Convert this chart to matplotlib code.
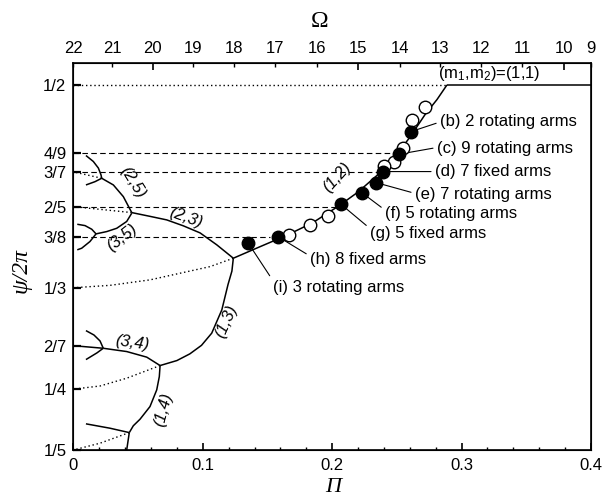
import matplotlib.pyplot as plt

plt.rcParams['font.family'] = ['Liberation Sans', 'DejaVu Sans']
plt.rcParams['mathtext.default'] = 'regular'

# axis ticks
pi_ticks = [0, 0.1, 0.2, 0.3, 0.4]
pi_labels = ['0', '0.1', '0.2', '0.3', '0.4']
psi_ticks = [1/5, 1/4, 2/7, 1/3, 3/8, 2/5, 3/7, 4/9, 1/2]
psi_labels = ['1/5', '1/4', '2/7', '1/3', '3/8', '2/5', '3/7', '4/9', '1/2']

# top axis: Omega values and their Pi positions
omega_major = ['20', '15', '10']
omega_major_pos = [0.0612, 0.2203, 0.3790]
omega_minor = ['22', '21', '19', '18', '17', '16', '14', '13', '12', '11', '9']
omega_minor_pos = [0.0, 0.0299, 0.0925, 0.1239, 0.1558, 0.1880, 0.2522, 0.2836, 0.3149, 0.3469, 0.4]

# solid branches
b11_x = [0.2887, 0.4]
b11_y = [0.5, 0.5]
b12_x = [0.1236, 0.1443, 0.1650, 0.1850, 0.2050, 0.2200, 0.2350, 0.2480, 0.2600, 0.2720, 0.2810, 0.2887]
b12_y = [0.3576, 0.3671, 0.3765, 0.3868, 0.4005, 0.4120, 0.4260, 0.4400, 0.4570, 0.4760, 0.4880, 0.5]
b13_x = [0.1236, 0.1225, 0.1195, 0.1147, 0.1069, 0.0990, 0.0900, 0.0800, 0.0670]
b13_y = [0.3576, 0.3470, 0.3360, 0.3151, 0.2960, 0.2860, 0.2790, 0.2735, 0.2694]
b23_x = [0.0451, 0.0592, 0.0721, 0.0850, 0.0979, 0.1108, 0.1236]
b23_y = [0.3951, 0.3920, 0.3891, 0.3842, 0.3784, 0.3686, 0.3576]
b25_x = [0.0451, 0.0386, 0.0309, 0.0219]
b25_y = [0.3951, 0.4082, 0.4178, 0.4233]
b25_up_x = [0.0219, 0.0213, 0.0193, 0.0154, 0.0097]
b25_up_y = [0.4233, 0.4262, 0.4317, 0.4371, 0.4420]
b25_lo_x = [0.0219, 0.0167, 0.0097]
b25_lo_y = [0.4233, 0.4205, 0.4178]
b35_x = [0.0451, 0.0412, 0.0335, 0.0258, 0.0175]
b35_y = [0.3946, 0.3878, 0.3822, 0.3795, 0.3776]
b35_up_x = [0.0175, 0.0142, 0.0090, 0.0030]
b35_up_y = [0.3776, 0.3814, 0.3844, 0.3855]
b35_lo_x = [0.0175, 0.0128, 0.0064, 0.0030]
b35_lo_y = [0.3776, 0.3713, 0.3658, 0.3645]
b34_x = [0.0670, 0.0567, 0.0412, 0.0231]
b34_y = [0.2694, 0.2763, 0.2809, 0.2836]
b34_up_x = [0.0231, 0.0206, 0.0159, 0.0097]
b34_up_y = [0.2836, 0.2896, 0.2945, 0.2981]
b34_lo_x = [0.0231, 0.0182, 0.0097]
b34_lo_y = [0.2836, 0.2798, 0.2743]
b27_x = [0.0, 0.0231]
b27_y = [2/7, 0.2836]
b14_x = [0.0670, 0.0664, 0.0644, 0.0592, 0.0515, 0.0463, 0.0432]
b14_y = [0.2694, 0.2603, 0.2494, 0.2357, 0.2253, 0.2199, 0.2143]
b15_up_x = [0.0432, 0.0283, 0.0097]
b15_up_y = [0.2143, 0.2179, 0.2215]
b15_lo_x = [0.0432, 0.0412]
b15_lo_y = [0.2143, 0.2]

# dotted branches
d12_x = [0.0, 0.2887]
d12_y = [0.5, 0.5]
d13_x = [0.1236, 0.1056, 0.0592, 0.0283, 0.0]
d13_y = [0.3576, 0.3507, 0.3398, 0.3353, 1/3]
d25_x = [0.0451, 0.0]
d25_y = [0.3951, 0.4]
d37_x = [0.0219, 0.0]
d37_y = [0.4233, 3/7]
d14_x = [0.0670, 0.0412, 0.0206, 0.0]
d14_y = [0.2694, 0.2590, 0.2526, 0.25]
d15_x = [0.0432, 0.0206, 0.0]
d15_y = [0.2143, 0.2056, 0.2]

# dashed levels: psi value and where they meet the (1,2) branch
dash_levels = [4/9, 3/7, 2/5, 3/8]
dash_end = [0.2471, 0.2355, 0.2036, 0.1520]

# branch labels
branch_names = ['(2,5)', '(3,5)', '(2,3)', '(1,2)', '(1,3)', '(3,4)', '(1,4)']
branch_lx = [0.0455, 0.0375, 0.0870, 0.2040, 0.1185, 0.0451, 0.0695]
branch_ly = [0.4200, 0.3745, 0.3905, 0.4245, 0.3055, 0.2880, 0.2330]
branch_rot = [-58, 38, -20, 48, 66, -8, 75]

# measured states
open_x = [0.2719, 0.2616, 0.2551, 0.2474, 0.2402, 0.1971, 0.1830, 0.1669]
open_y = [0.4822, 0.4712, 0.4480, 0.4370, 0.4334, 0.3924, 0.3850, 0.3768]
filled_x = [0.2608, 0.2518, 0.2396, 0.2340, 0.2229, 0.2067, 0.1580, 0.1352]
filled_y = [0.4616, 0.4431, 0.4288, 0.4197, 0.4115, 0.4020, 0.3754, 0.3699]
filled_names = ['(b) 2 rotating arms', '(c) 9 rotating arms', '(d) 7 fixed arms',
                '(e) 7 rotating arms', '(f) 5 rotating arms', '(g) 5 fixed arms',
                '(h) 8 fixed arms', '(i) 3 rotating arms']
name_x = [0.2835, 0.2811, 0.2796, 0.2641, 0.2409, 0.2293, 0.1830, 0.1541]
name_y = [0.4696, 0.4480, 0.4288, 0.4096, 0.3940, 0.3776, 0.3568, 0.3338]
name_rel = [(0, 0.5), (0, 0.55), (0, 0.5), (0, 0.6), (0, 0.75), (0, 0.85), (0, 0.7), (0, 0.95)]

fig = plt.figure(figsize=(6.03, 4.99), dpi=100)
ax = fig.add_axes([0.1217, 0.0982, 0.8584, 0.7755])

lw = 1.1
solid = [(b11_x, b11_y), (b12_x, b12_y), (b13_x, b13_y), (b23_x, b23_y),
         (b25_x, b25_y), (b25_up_x, b25_up_y), (b25_lo_x, b25_lo_y),
         (b35_x, b35_y), (b35_up_x, b35_up_y), (b35_lo_x, b35_lo_y),
         (b34_x, b34_y), (b34_up_x, b34_up_y), (b34_lo_x, b34_lo_y),
         (b27_x, b27_y), (b14_x, b14_y), (b15_up_x, b15_up_y), (b15_lo_x, b15_lo_y)]
for xs, ys in solid:
    ax.plot(xs, ys, color='black', lw=lw, solid_capstyle='butt', zorder=2)

dotted = [(d12_x, d12_y), (d13_x, d13_y), (d25_x, d25_y), (d37_x, d37_y),
          (d14_x, d14_y), (d15_x, d15_y)]
for xs, ys in dotted:
    ax.plot(xs, ys, color='black', lw=1.0, ls=(0, (1, 2)), zorder=1)

for lev, xe in zip(dash_levels, dash_end):
    ax.plot([0, xe], [lev, lev], color='black', lw=0.8, ls=(0, (5, 3)), zorder=1)

for name, x, y, r in zip(branch_names, branch_lx, branch_ly, branch_rot):
    ax.text(x, y, name, rotation=r, ha='center', va='center', fontsize=12,
            style='italic', rotation_mode='anchor')

ax.plot(open_x, open_y, 'o', ms=9, mfc='white', mec='black', mew=1.0, zorder=5)
ax.plot(filled_x, filled_y, 'o', ms=9, mfc='black', mec='black', mew=1.0, zorder=6)

for name, px, py, tx, ty, rel in zip(filled_names, filled_x, filled_y, name_x, name_y, name_rel):
    ax.annotate(name, xy=(px, py), xytext=(tx, ty), ha='left', va='center', fontsize=12,
                arrowprops=dict(arrowstyle='-', lw=0.8, color='black', relpos=rel,
                                shrinkA=1, shrinkB=0), zorder=4)

ax.text(0.2819, 0.5095, '(m$_1$,m$_2$)=(1,1)', ha='left', va='center', fontsize=12)

ax.set_xlim(0, 0.4)
ax.set_ylim(0.2, 0.518)
ax.set_xticks(pi_ticks)
ax.set_xticklabels(pi_labels)
ax.set_xticks([i * 0.02 for i in range(21)], minor=True)
ax.set_yticks(psi_ticks)
ax.set_yticklabels(psi_labels)
ax.tick_params(axis='x', which='major', direction='in', length=5, width=1.2,
               labelsize=12, pad=6, top=False)
ax.tick_params(axis='x', which='minor', direction='in', length=2.5, width=1.0, top=False)
ax.tick_params(axis='y', which='major', direction='in', length=6, width=1.6,
               labelsize=12, pad=5, right=False)
for s in ax.spines.values():
    s.set_linewidth(1.2)

ax2 = ax.twiny()
ax2.set_xlim(ax.get_xlim())
ax2.set_xticks(omega_major_pos)
ax2.set_xticklabels(omega_major)
ax2.set_xticks(omega_minor_pos, omega_minor, minor=True)
ax2.tick_params(axis='x', which='major', direction='in', length=5, width=1.2,
                labelsize=12, pad=5)
ax2.tick_params(axis='x', which='minor', direction='in', length=3, width=1.0,
                labelsize=12, pad=5)

ax.set_xlabel('Π', family='Liberation Serif', style='italic', fontsize=16)
ax.xaxis.set_label_coords(0.5015, -0.072)
ax.set_ylabel('ψ/2π', family='Liberation Serif', style='italic', fontsize=17)
ax.yaxis.set_label_coords(-0.08, 0.465)
ax2.set_xlabel('Ω', family='Liberation Serif', fontsize=17)
ax2.xaxis.set_label_coords(0.476, 1.093)

fig.savefig('out.png', dpi=100)
